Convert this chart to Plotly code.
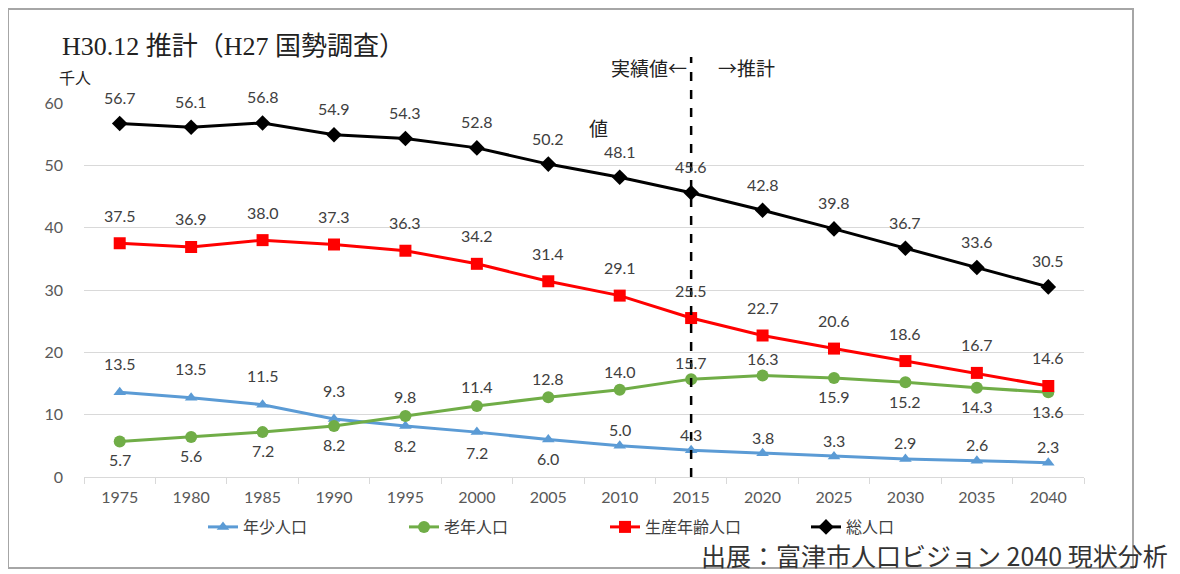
import plotly.graph_objects as go

years = ["1975", "1980", "1985", "1990", "1995", "2000", "2005",
         "2010", "2015", "2020", "2025", "2030", "2035", "2040"]

youth = [13.6, 12.7, 11.6, 9.3, 8.2, 7.2, 6.0, 5.0, 4.3, 3.8, 3.3, 2.9, 2.6, 2.3]
youth_labels = ["13.5", "13.5", "11.5", "9.3", "8.2", "7.2", "6.0",
                "5.0", "4.3", "3.8", "3.3", "2.9", "2.6", "2.3"]

elderly = [5.7, 6.4, 7.2, 8.2, 9.8, 11.4, 12.8, 14.0, 15.7, 16.3, 15.9, 15.2, 14.3, 13.6]
elderly_labels = ["5.7", "5.6", "7.2", "8.2", "9.8", "11.4", "12.8",
                  "14.0", "15.7", "16.3", "15.9", "15.2", "14.3", "13.6"]

working = [37.5, 36.9, 38.0, 37.3, 36.3, 34.2, 31.4, 29.1, 25.5, 22.7, 20.6, 18.6, 16.7, 14.6]
working_labels = ["37.5", "36.9", "38.0", "37.3", "36.3", "34.2", "31.4",
                  "29.1", "25.5", "22.7", "20.6", "18.6", "16.7", "14.6"]

total = [56.7, 56.1, 56.8, 54.9, 54.3, 52.8, 50.2, 48.1, 45.6, 42.8, 39.8, 36.7, 33.6, 30.5]
total_labels = ["56.7", "56.1", "56.8", "54.9", "54.3", "52.8", "50.2",
                "48.1", "45.6", "42.8", "39.8", "36.7", "33.6", "30.5"]

series_names = ["年少人口", "老年人口", "生産年齢人口", "総人口"]
y_ticks = [0, 10, 20, 30, 40, 50, 60]
boundary_year = "2015"

# label pixel shifts (style)
youth_shift = [29, 29, 29, 29, -20, -20, -19, 16, 16, 16, 16, 16, 16, 16]
elderly_shift = [-18, -18, -18, -19, 19, 19, 19, 18, 17, 17, -19, -19, -19, -19]
working_shift = [28] * 14
total_shift = [26] * 14

LBL_FONT = dict(family="Lato, 'Open Sans', sans-serif", size=16, color="#404040")
CJK = "'Noto Sans CJK JP', sans-serif"

# the page body has an 8px margin: figure coords = screen - 8
OFF = 8
FIG_W, FIG_H = 1180 - OFF, 574 - OFF
PL, PR, PT, PB = 84, 1084, 103, 477  # plot area in screen px

fig = go.Figure()

styles = [
    (youth, "#5B9BD5", "triangle-up", 11),
    (elderly, "#70AD47", "circle", 12),
    (working, "#FF0000", "square", 12),
    (total, "#000000", "diamond", 12),
]
for (vals, col, sym, sz), name in zip(styles, series_names):
    fig.add_trace(go.Scatter(
        x=years, y=vals, name=name, mode="lines+markers",
        line=dict(color=col, width=3),
        marker=dict(symbol=sym, size=sz, color=col),
        cliponaxis=False,
    ))

annotations = []
for vals, labels, shifts in [
    (youth, youth_labels, youth_shift),
    (elderly, elderly_labels, elderly_shift),
    (working, working_labels, working_shift),
    (total, total_labels, total_shift),
]:
    for i, (yv, t, s) in enumerate(zip(vals, labels, shifts)):
        annotations.append(dict(x=i, y=yv, text=t, showarrow=False,
                                yshift=s, font=LBL_FONT, xref="x", yref="y"))


def px(p):
    return (p - PL) / (PR - PL)


def py(p):
    return (PB - p) / (PB - PT)


annotations += [
    dict(text="H30.12 推計（H27 国勢調査）", x=px(60), y=py(46), xref="paper", yref="paper",
         xanchor="left", yanchor="middle", showarrow=False,
         font=dict(family="'Liberation Serif', 'Noto Sans CJK JP', serif", size=26, color="#222222")),
    dict(text="千人", x=px(57), y=py(77), xref="paper", yref="paper",
         xanchor="left", yanchor="middle", showarrow=False,
         font=dict(family=CJK, size=16, color="#222222")),
    dict(text="実績値←", x=px(689), y=py(67), xref="paper", yref="paper",
         xanchor="right", yanchor="middle", showarrow=False,
         font=dict(family=CJK, size=19, color="#222222")),
    dict(text="→推計", x=px(716), y=py(67), xref="paper", yref="paper",
         xanchor="left", yanchor="middle", showarrow=False,
         font=dict(family=CJK, size=19, color="#222222")),
    dict(text="値", x=px(587), y=py(127), xref="paper", yref="paper",
         xanchor="left", yanchor="middle", showarrow=False,
         font=dict(family=CJK, size=19, color="#222222")),
    dict(text="出展：富津市人口ビジョン 2040 現状分析", x=px(1170), y=py(555), xref="paper", yref="paper",
         xanchor="right", yanchor="middle", showarrow=False,
         font=dict(family=CJK, size=25, color="#333333")),
]

bx = years.index(boundary_year)
shapes = [
    dict(type="rect", xref="paper", yref="paper",
         x0=px(8), x1=px(1133), y0=py(568), y1=py(9),
         line=dict(color="#A6A6A6", width=2), fillcolor="rgba(0,0,0,0)", layer="below"),
    dict(type="line", xref="x", yref="paper", x0=bx, x1=bx, y0=0, y1=py(57),
         line=dict(color="#000000", width=2.5, dash="dash")),
]

fig.update_layout(
    width=FIG_W, height=FIG_H,
    margin=dict(l=PL - OFF, r=FIG_W - (PR - OFF), t=PT - OFF, b=FIG_H - (PB - OFF)),
    paper_bgcolor="white", plot_bgcolor="white",
    showlegend=True,
    legend=dict(orientation="h", x=px(203), y=py(527), xanchor="left", yanchor="middle",
                font=dict(family=CJK, size=16, color="#404040"),
                entrywidth=156, entrywidthmode="pixels", itemwidth=30),
    annotations=annotations,
    shapes=shapes,
)
fig.update_xaxes(type="category", range=[-0.5, 13.5], showgrid=False,
                 showline=True, linecolor="#D9D9D9", linewidth=1,
                 ticks="outside", tickson="boundaries", ticklen=6, tickcolor="#D9D9D9",
                 ticklabelstandoff=6,
                 tickfont=dict(family="Lato, 'Open Sans', sans-serif", size=16, color="#595959"))
fig.update_yaxes(range=[0, 60], tickvals=y_ticks, showgrid=True, gridcolor="#D9D9D9",
                 gridwidth=1, zeroline=False, showline=False, ticklabelstandoff=20,
                 tickfont=dict(family="Lato, 'Open Sans', sans-serif", size=16, color="#595959"))

fig.write_html("out.html")
